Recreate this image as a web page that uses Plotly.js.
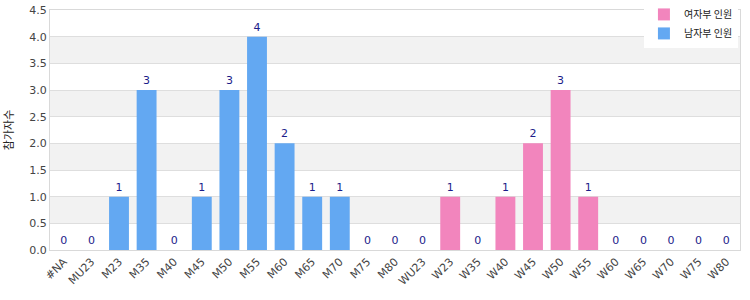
<!DOCTYPE html>
<html>
<head>
<meta charset="utf-8">
<script src="https://cdn.plot.ly/plotly-3.0.1.min.js"></script>
<style>html,body{margin:0;padding:0;background:#fff;}#chart{width:750px;height:300px;}</style>
</head>
<body>
<div id="chart"></div>
<script>
const categories = ["#NA","MU23","M23","M35","M40","M45","M50","M55","M60","M65","M70","M75","M80","WU23","W23","W35","W40","W45","W50","W55","W60","W65","W70","W75","W80"];
const menValues   = [0,0,1,3,0,1,3,4,2,1,1,0,0,null,null,null,null,null,null,null,null,null,null,null,null];
const womenValues = [null,null,null,null,null,null,null,null,null,null,null,null,null,0,1,0,1,2,3,1,0,0,0,0,0];
const womenName = "여자부 인원";
const menName = "남자부 인원";
const yTitle = "참가자수";

const textFont = {family: "DejaVu Sans, Arial, sans-serif", size: 11, color: "#1c1c8a"};
function txt(arr){ return arr.map(v => v === null ? "" : String(v)); }

const traces = [
  {type: "bar", name: womenName, x: categories, y: womenValues, text: txt(womenValues),
   textposition: "outside", textfont: textFont, cliponaxis: false,
   marker: {color: "#f285bd"}, width: 0.72, hoverinfo: "x+y"},
  {type: "bar", name: menName, x: categories, y: menValues, text: txt(menValues),
   textposition: "outside", textfont: textFont, cliponaxis: false,
   marker: {color: "#63a8f2"}, width: 0.72, hoverinfo: "x+y"}
];

const shapes = [];
for (let b = 0.5; b < 4.5; b += 1) {
  shapes.push({type: "rect", xref: "paper", yref: "y", x0: 0, x1: 1, y0: b, y1: b + 0.5,
    fillcolor: "#f2f2f2", line: {width: 0}, layer: "below"});
}

const layout = {
  width: 750, height: 300,
  margin: {l: 50, r: 10, t: 10, b: 50, autoexpand: false},
  paper_bgcolor: "#fff", plot_bgcolor: "#fff",
  barmode: "overlay",
  font: {family: "DejaVu Sans, Arial, sans-serif", size: 11, color: "#444"},
  showlegend: true,
  legend: {x: 0.997, xanchor: "right", y: 1.042, yanchor: "top", bgcolor: "#fff",
    font: {family: "Noto Sans CJK KR, DejaVu Sans, sans-serif", size: 10, color: "#222"},
    itemwidth: 30, tracegroupgap: 0},
  xaxis: {type: "category", tickangle: -45, showgrid: false, zeroline: false,
    showline: true, linecolor: "#d9d9d9", linewidth: 1, mirror: true,
    tickfont: {size: 11, color: "#444"}, ticks: "", automargin: false},
  yaxis: {range: [0, 4.5], dtick: 0.5, tickformat: ".1f", showgrid: true, gridcolor: "#dedede",
    zeroline: false, showline: true, linecolor: "#d9d9d9", mirror: true,
    tickfont: {size: 11, color: "#444"}, automargin: false,
    title: {text: yTitle, font: {family: "Noto Sans CJK KR, DejaVu Sans, sans-serif", size: 11, color: "#222"}, standoff: 14}},
  shapes: shapes
};

Plotly.newPlot("chart", traces, layout, {displayModeBar: false, staticPlot: true});
</script>
</body>
</html>
